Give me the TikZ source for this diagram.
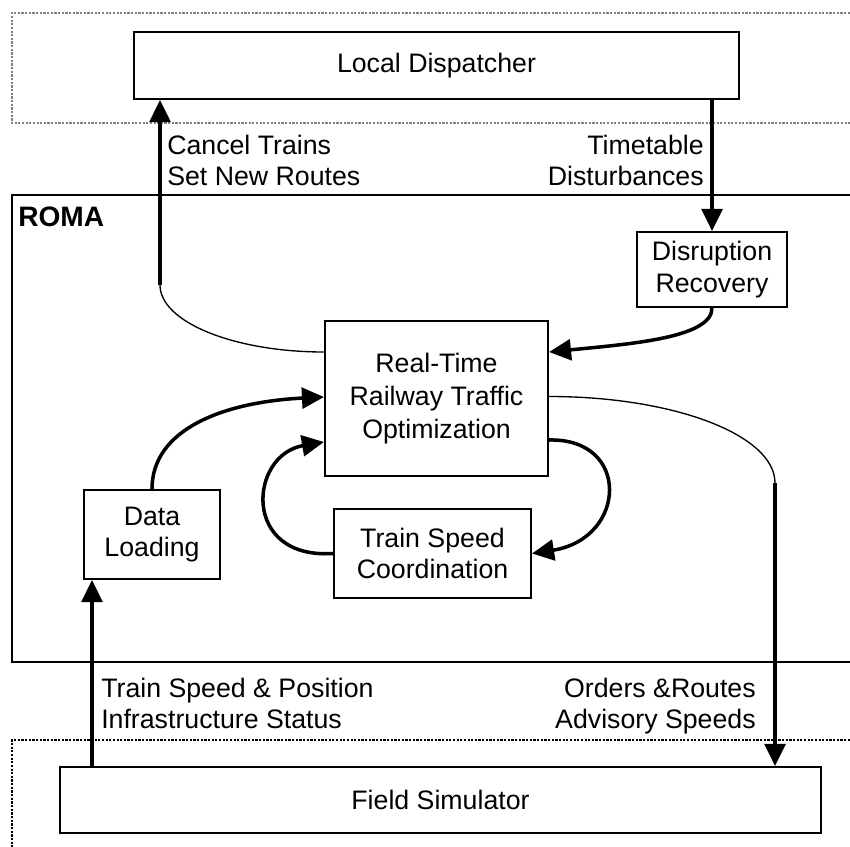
\documentclass[tikz,border=0pt]{standalone}
\usepackage{fontspec}
\setmainfont{Liberation Sans}
\usetikzlibrary{arrows.meta,calc}
\def\px{0.025cm}
\tikzset{blockbox/.style={draw, line width=1.5pt, inner sep=0pt, align=center, font=\fontsize{19}{22.5}\selectfont}, flowlabel/.style={inner sep=0pt, font=\fontsize{19}{22}\selectfont}, flowline/.style={line width=2.5pt, -{Triangle[length=0.55cm,width=0.52cm]}}, thinlink/.style={line width=0.95pt}, zonedots/.style={line width=1.8pt, dash pattern=on 1.6pt off 1pt}, romaframe/.style={line width=1.6pt}}

\begin{document}
\begin{tikzpicture}[x=\px,y=-\px]%[scale=0.75]
\useasboundingbox (0,0) rectangle (850,847);
% zones
\draw[zonedots, gray] (850,13) -- (12,13) -- (12,123) -- (850,123);
\draw[romaframe] (850,195) -- (12,195) -- (12,662) -- (850,662);
\draw[zonedots] (850,740) -- (12,740) -- (12,847);
\node[anchor=west, inner sep=0pt, font=\fontsize{20}{24}\selectfont\bfseries] (roma) at (18,217) {ROMA};
% blocks
\node[blockbox, minimum width=605*\px, minimum height=67*\px] (dispatcher) at (436.5,65.5) {Local Dispatcher};
\node[blockbox, minimum width=150*\px, minimum height=75*\px] (recovery) at (712,269.5) {Disruption\\Recovery};
\node[blockbox, minimum width=223*\px, minimum height=155*\px, font=\fontsize{19}{23.5}\selectfont] (optim) at (436.5,398.5) {Real-Time\\Railway Traffic\\Optimization};
\node[blockbox, minimum width=136*\px, minimum height=89*\px] (loading) at (152,534.5) {Data\\Loading};
\node[blockbox, minimum width=197*\px, minimum height=89*\px] (speedcoord) at (432.5,553.5) {Train Speed\\Coordination};
\node[blockbox, minimum width=761*\px, minimum height=66*\px] (simulator) at (440.5,800) {Field Simulator};
% labels
\node[flowlabel, anchor=west, align=left] (cancel) at (167,160) {Cancel Trains\\Set New Routes};
\node[flowlabel, anchor=east, align=right] (timetable) at (704,160) {Timetable\\Disturbances};
\node[flowlabel, anchor=west, align=left] (trainstatus) at (101,703) {Train Speed \& Position\\Infrastructure Status};
\node[flowlabel, anchor=east, align=right] (orders) at (756,706) {Orders \&Routes\\Advisory Speeds};
% bends
\coordinate (cancelbend) at (160,285);
\coordinate (ordersbend) at (775,483);
\coordinate (statusfoot) at (92,767);
% connectors
\draw[thinlink] ($(optim.west)+(0,-46.5)$) .. controls +(-90,0) and +(0,37) .. (cancelbend);
\draw[flowline] (cancelbend) -- (cancelbend |- dispatcher.south);
\draw[flowline] (recovery.north |- dispatcher.south) -- (recovery.north);
\draw[flowline] (recovery.south) .. controls +(0,30) and +(80,-8) .. ($(optim.east)+(0,-46.5)$);
\draw[thinlink] ($(optim.east)+(0,-2)$) .. controls +(125,0) and +(0,-48) .. (ordersbend);
\draw[flowline] (ordersbend) -- (ordersbend |- simulator.north);
\draw[flowline] (statusfoot) -- (statusfoot |- loading.south);
\draw[flowline] (loading.north) .. controls +(0,-60) and +(-100,5) .. ($(optim.west)+(0,-1.5)$);
\draw[flowline] (speedcoord.west) .. controls +(-92,6) and +(-75,13) .. ($(optim.west)+(0,43.5)$);
\draw[flowline] ($(optim.east)+(0,41.5)$) .. controls +(82,-2) and +(95,-15) .. (speedcoord.east);
\end{tikzpicture}
\end{document}
